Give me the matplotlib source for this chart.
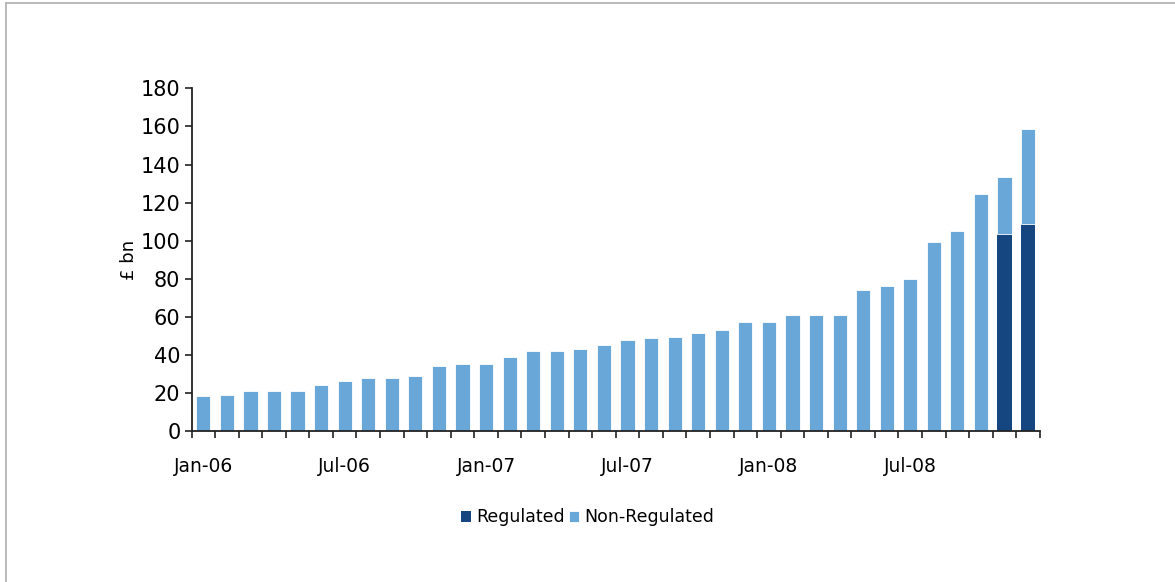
import matplotlib
matplotlib.use("Agg")
import matplotlib.pyplot as plt
import numpy as np
from matplotlib.lines import Line2D

months = ["Jan-06", "Feb-06", "Mar-06", "Apr-06", "May-06", "Jun-06",
          "Jul-06", "Aug-06", "Sep-06", "Oct-06", "Nov-06", "Dec-06",
          "Jan-07", "Feb-07", "Mar-07", "Apr-07", "May-07", "Jun-07",
          "Jul-07", "Aug-07", "Sep-07", "Oct-07", "Nov-07", "Dec-07",
          "Jan-08", "Feb-08", "Mar-08", "Apr-08", "May-08", "Jun-08",
          "Jul-08", "Aug-08", "Sep-08", "Oct-08", "Nov-08", "Dec-08"]

regulated = [0, 0, 0, 0, 0, 0, 0, 0, 0, 0, 0, 0,
             0, 0, 0, 0, 0, 0, 0, 0, 0, 0, 0, 0,
             0, 0, 0, 0, 0, 0, 0, 0, 0, 0, 103.5, 108.7]

non_regulated = [18, 19, 21, 21, 21, 24, 26, 27.5, 27.5, 28.5, 34, 35,
                 35, 39, 42, 42, 43, 45, 47.5, 48.5, 49.5, 51.5, 53, 57,
                 57, 61, 61, 61, 74, 76, 80, 99, 105, 124.5, 30, 50]

label_every = 6
yticks = list(range(0, 181, 20))

dark = "#15467f"
light = "#69a7d8"

fig = plt.figure(figsize=(11.75, 5.82), dpi=100)
ax = fig.add_axes([0.163, 0.260, 0.722, 0.588])

x = np.arange(len(months))
ax.bar(x, regulated, width=0.6, color=dark, label="Regulated", edgecolor="none")
ax.bar(x, non_regulated, width=0.6, bottom=regulated, color=light,
       label="Non-Regulated", edgecolor="white", linewidth=0.6)

ax.set_xlim(-0.5, len(months) - 0.5)
ax.set_ylim(0, 180)
ax.set_yticks(yticks)
ax.set_yticklabels([str(v) for v in yticks])

ax.set_xticks(x[::label_every])
ax.set_xticklabels(months[::label_every])
ax.set_xticks(np.arange(-0.5, len(months), 1.0), minor=True)
ax.tick_params(axis="x", which="major", length=0, pad=19, labelsize=13.5)
ax.tick_params(axis="x", which="minor", length=5, width=1.2, direction="out", color="#222222")
ax.tick_params(axis="y", which="major", length=5, width=1.2, direction="out", labelsize=15, pad=3, color="#222222")

for s in ["top", "right"]:
    ax.spines[s].set_visible(False)
for s in ["left", "bottom"]:
    ax.spines[s].set_linewidth(1.3)
    ax.spines[s].set_color("#222222")

ax.set_ylabel("£ bn", fontsize=13, labelpad=2)

fig.legend(loc="center", bbox_to_anchor=(0.5, 0.111), ncol=2, frameon=False,
           fontsize=12.5, handlelength=0.6, handleheight=0.6, handletextpad=0.3,
           columnspacing=0.2)

# thin grey frame on top and left edges
fig.add_artist(Line2D([0.0051, 1.0], [0.9948, 0.9948], transform=fig.transFigure,
                      color="#b4b4b4", linewidth=1.3))
fig.add_artist(Line2D([0.0051, 0.0051], [0.0, 0.9948], transform=fig.transFigure,
                      color="#b4b4b4", linewidth=1.3))

fig.savefig("out.png", dpi=100)
